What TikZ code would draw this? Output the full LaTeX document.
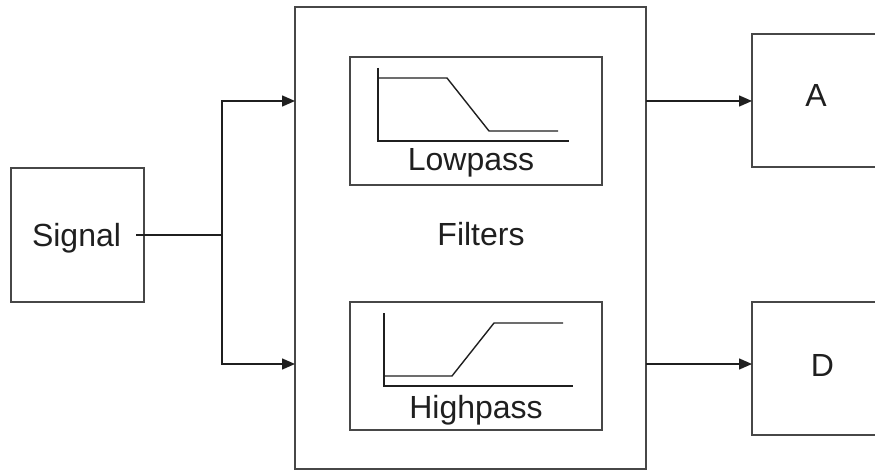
\documentclass[tikz,border=0pt]{standalone}
\usepackage{fontspec}
\setmainfont{Liberation Sans}
\usetikzlibrary{arrows.meta}
\begin{document}
\begin{tikzpicture}[x=1pt,y=-1pt,
  box/.style={draw=black!72,line width=1.4pt,inner sep=0pt,outer sep=0pt},
  lbl/.style={anchor=base,inner sep=0pt,text=black!88,font=\fontsize{32}{38}\selectfont},
  wire/.style={draw=black!88,line width=1.4pt},
  arr/.style={wire,-{Triangle[length=13pt,width=11pt]}},
  curve/.style={draw=black!88,line width=1.4pt}]
\useasboundingbox (0,0) rectangle (875,470);
% boxes
\node[box,minimum width=133pt,minimum height=134pt] (sig) at (77.5,235) {};
\node[box,minimum width=351pt,minimum height=462pt] (filt) at (470.5,238) {};
\node[box,minimum width=252pt,minimum height=128pt] (low) at (476,121) {};
\node[box,minimum width=252pt,minimum height=128pt] (high) at (476,366) {};
\node[box,minimum width=133pt,minimum height=133pt] (A) at (818.5,100.5) {};
\node[box,minimum width=133pt,minimum height=133pt] (D) at (818.5,368.5) {};
% texts
\node[lbl] (tsig) at (76.5,247) {Signal};
\node[lbl] (tfilt) at (481,246) {Filters};
\node[lbl] (tlow) at (471,171) {Lowpass};
\node[lbl] (thigh) at (476,418) {Highpass};
\node[lbl] (tA) at (816,107) {A};
\node[lbl] (tD) at (822.5,376) {D};
% connectors
\coordinate (split) at (222,235);
\coordinate (inLow) at (295,101);
\coordinate (inHigh) at (295,364);
\coordinate (outLow) at (646,101);
\coordinate (outHigh) at (646,364);
\draw[wire] ([xshift=-8pt]sig.east) -- (split);
\draw[arr] (split) |- (inLow);
\draw[arr] (split) |- (inHigh);
\draw[arr] (outLow) -- (A.west |- outLow);
\draw[arr] (outHigh) -- (D.west |- outHigh);
% lowpass plot
\draw[curve] (378,68) -- (378,141) -- (569,141);
\draw[curve] (378,78) -- (447,78) -- (489,131) -- (558,131);
% highpass plot
\draw[curve] (384,313) -- (384,386) -- (573,386);
\draw[curve] (384,376) -- (452,376) -- (494,323) -- (563,323);
\end{tikzpicture}
\end{document}
